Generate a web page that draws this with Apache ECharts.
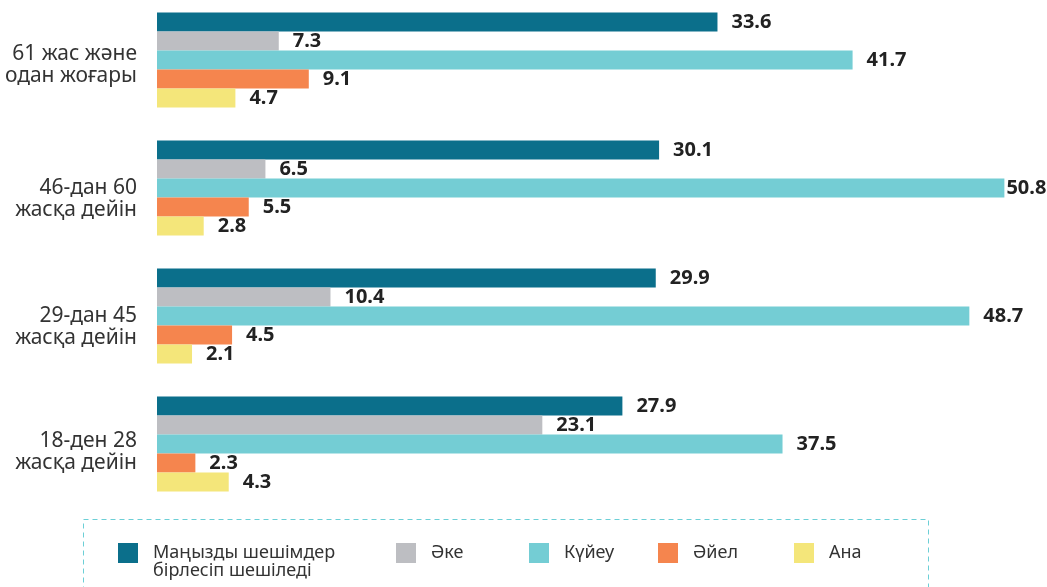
<!DOCTYPE html>
<html><head><meta charset="utf-8">
<script src="https://cdn.jsdelivr.net/npm/echarts@6/dist/echarts.min.js"></script>
<style>html,body{margin:0;padding:0;background:#fff;overflow:hidden}#c{width:1047px;height:591px;margin-top:-4px}</style>
</head><body><div id="c"></div>
<script>
const categories = ['61 жас және\nодан жоғары','46-дан 60\nжасқа дейін','29-дан 45\nжасқа дейін','18-ден 28\nжасқа дейін'];
const seriesNames = ['Маңызды шешімдер\nбірлесіп шешіледі','Әке','Күйеу','Әйел','Ана'];
const joint = [33.6,30.1,29.9,27.9];
const father = [7.3,6.5,10.4,23.1];
const husband = [41.7,50.8,48.7,37.5];
const wife = [9.1,5.5,4.5,2.3];
const mother = [4.7,2.8,2.1,4.3];
const colors = ['#0b6f8b','#bdbec2','#74cdd4','#f5854e','#f4e67a'];
const values = [joint,father,husband,wife,mother];
const legendLeft = [118,396,529,658,794];
const labelShift = [10,23,22,17];

const rich = {t:{fontSize:21,color:'#333',lineHeight:22,fontFamily:'Noto Sans',align:'right'}};
labelShift.forEach((s,i)=>{ rich['sp'+i] = {fontSize:2,lineHeight:s,align:'right'}; });

const chart = echarts.init(document.getElementById('c'));
chart.setOption({
  animation:false,
  grid:{left:157,top:0,height:512,right:22.6},
  xAxis:{type:'value',min:0,max:52,show:false},
  yAxis:{type:'category',inverse:true,data:categories,
    axisLine:{show:false},axisTick:{show:false},
    axisLabel:{margin:20,fontSize:21,color:'#333',lineHeight:22,fontFamily:'Noto Sans',align:'right',
      formatter:(v,i)=>'{sp'+i+'| }\n'+v.split('\n').map(t=>'{t|'+t+'}').join('\n'),rich:rich}},
  legend: seriesNames.map((n,i)=>({
    data:[n],left:legendLeft[i],top: i===0?530:547,itemWidth:20,itemHeight:20,icon:'rect',padding:0,
    formatter: name => (i===0 ? '{s| }\n' : '') + name.split('\n').map(t=>'{a|'+t+'}').join('\n'),
    textStyle:{fontSize:18,color:'#333',fontFamily:'Noto Sans',
      rich:{a:{fontSize:18,color:'#333',fontFamily:'Noto Sans',lineHeight:18,padding:[0,0,0,10]},s:{fontSize:18,lineHeight:18}}}
  })),
  graphic:[{type:'rect',shape:{x:83.5,y:523.5,width:845,height:100},
    style:{fill:'none',stroke:'#6ccfd6',lineWidth:1,lineDash:[5,4]}}],
  series: values.map((v,i)=>({
    name:seriesNames[i],type:'bar',barWidth:19,barGap:'0%',
    data: v.map(x => x > 50 ? {value:x,label:{distance:2}} : x),
    itemStyle:{color:colors[i]},
    label:{show:true,position:'right',distance:14,fontSize:20,fontWeight:'bold',color:'#222',fontFamily:'Noto Sans',
      formatter:p=>p.value.toFixed(1)}
  }))
});
</script></body></html>
